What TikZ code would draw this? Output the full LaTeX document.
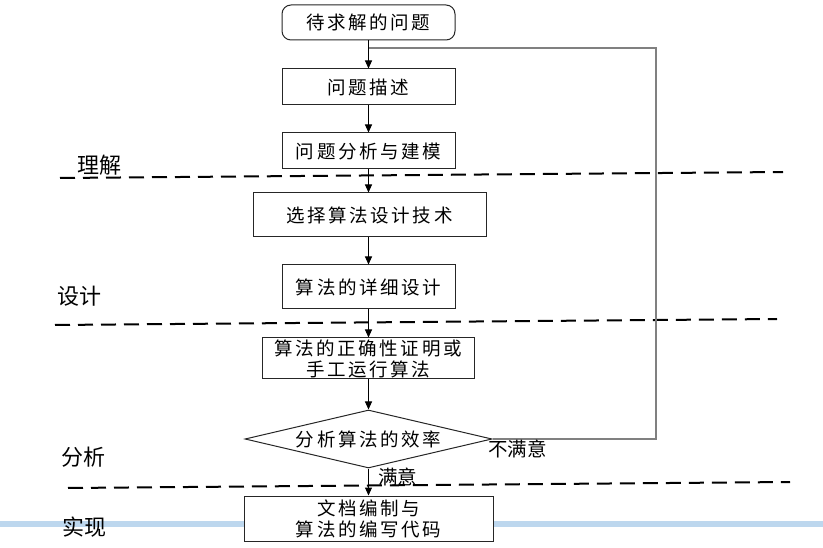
\documentclass[tikz,border=0pt]{standalone}
\usepackage{fontspec}
\newfontfamily\cjk{Noto Sans CJK SC}
\newfontfamily\cjksp{Noto Sans CJK SC}[LetterSpace=14]
\usetikzlibrary{shapes.geometric,arrows.meta}
\definecolor{barblue}{HTML}{BDD7EE}
\definecolor{fbgray}{HTML}{808080}
\tikzset{
  box/.style={draw=black!85, line width=1pt, fill=white, inner sep=0pt, align=center,
    font=\cjksp\fontsize{18.5}{21}\selectfont},
  arr/.style={-{Triangle[length=8pt,width=7pt]}, line width=1pt},
  sepline/.style={line width=2pt, dash pattern=on 15pt off 8pt},
  phase/.style={font=\cjk\fontsize{22}{24}\selectfont, inner sep=0pt},
  lbl/.style={font=\cjk\fontsize{19.5}{20}\selectfont, inner sep=0pt},
  fb/.style={draw=fbgray, line width=1.2pt}
}
\begin{document}
\begin{tikzpicture}[x=1pt,y=-1pt]
\useasboundingbox (0,0) rectangle (823,548);
% light blue bar
\fill[barblue] (0,521) rectangle (823,527);
% dashed separators
\draw[sepline] (60,178) -- (783,172);
\draw[sepline] (55,325) -- (777,319);
\draw[sepline] (68,488) -- (790,482);
% phase labels
\node[phase] (pl1) at (99,165) {理解};
\node[phase] (pl2) at (79,296) {设计};
\node[phase] (pl3) at (83,457) {分析};
\node[phase] (pl4) at (84,527) {实现};
% boxes
\node[box, rounded corners=9pt, minimum width=173pt, minimum height=35pt] (top) at (368.5,22.5) {待求解的问题};
\node[box, minimum width=173pt, minimum height=36pt] (n1) at (368.5,87) {问题描述};
\node[box, minimum width=173pt, minimum height=36pt] (n2) at (368.5,151) {问题分析与建模};
\node[box, minimum width=233pt, minimum height=44pt] (n3) at (369.5,215) {选择算法设计技术};
\node[box, minimum width=173pt, minimum height=44pt] (n4) at (368.5,287) {算法的详细设计};
\node[box, minimum width=212pt, minimum height=41pt] (n5) at (368,358.5) {算法的正确性证明或\\手工运行算法};
\node[box, diamond, shape aspect=4.2, minimum width=247pt, minimum height=58pt] (dia) at (368.5,439) {分析算法的效率};
\node[box, minimum width=249pt, minimum height=45pt] (bot) at (368.5,518.5) {文档编制与\\算法的编写代码};
% arrows
\draw[arr] (top.south) -- (n1.north);
\draw[arr] (n1.south) -- (n2.north);
\draw[arr] (n2.south) -- (n3.north -| n2.south);
\draw[arr] (n3.south -| n4.north) -- (n4.north);
\draw[arr] (n4.south) -- (n5.north -| n4.south);
\draw[arr] (n5.south -| dia.north) -- (dia.north);
\draw[arr] (dia.south) -- (bot.north -| dia.south);
% feedback loop
\coordinate (fbR) at (656,48);
\coordinate (fbJ) at (top.south |- fbR);
\draw[fb] (dia.east) -- (dia.east -| fbR) -- (fbR) -- (fbJ);
% branch labels
\node[lbl, anchor=north west] (no) at (488,440) {不满意};
\node[lbl, anchor=north west] (yes) at (378,468) {满意};
\end{tikzpicture}
\end{document}
